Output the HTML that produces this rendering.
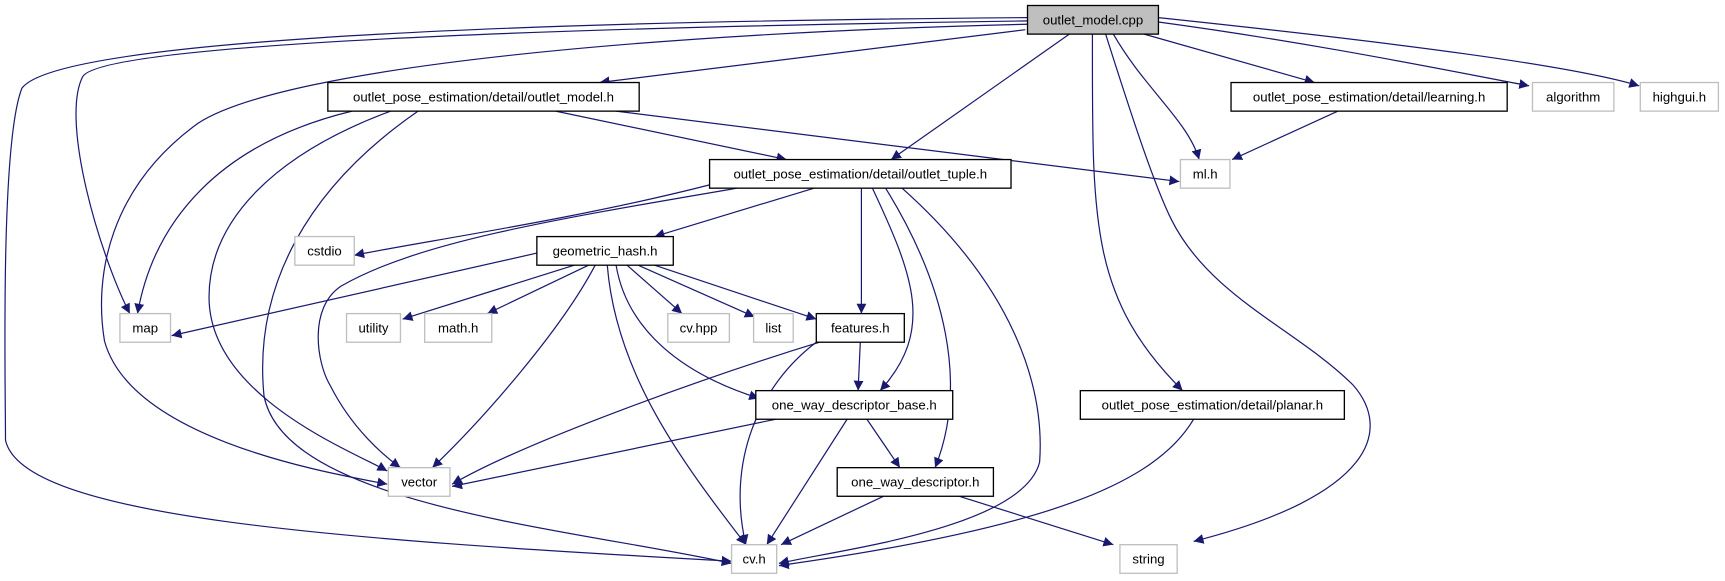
<!DOCTYPE html>
<html><head><meta charset="utf-8"><style>
html,body{margin:0;padding:0;background:#fff;width:1725px;height:581px;overflow:hidden}
svg text{font-family:"Liberation Sans",sans-serif;font-size:12px;text-anchor:middle;dominant-baseline:central;fill:#000}
.e{fill:none;stroke:#191970;stroke-width:1.1}
.n{fill:#fff;stroke:#000;stroke-width:1.2}
.g{fill:#fff;stroke:#bfbfbf;stroke-width:1.2}
</style></head><body>
<svg width="1725" height="581" viewBox="0 0 1568 528" preserveAspectRatio="none">
<defs><marker id="a" viewBox="0 0 10 10" refX="10" refY="5" markerWidth="9" markerHeight="9" markerUnits="userSpaceOnUse" orient="auto"><path d="M0,0 L10,5 L0,10 z" fill="#191970"/></marker></defs>
<g class="e" marker-end="url(#a)">
<path d="M932,27 L545,75"/>
<path d="M934,19 C500,25 90,40 75,70 C55,110 90,230 118,285"/>
<path d="M934,22 C600,30 260,60 180,112 C100,170 85,250 95,310 C120,400 300,430 352,440"/>
<path d="M934,16 C400,20 50,40 20,80 C0,130 5,350 5,400 C20,470 300,490 665,510"/>
<path d="M972,31 L810,145"/>
<path d="M1012,31 C1040,80 1080,110 1090,145"/>
<path d="M1005,31 C1030,110 1050,170 1065,200 C1100,270 1180,300 1230,350 C1265,390 1250,450 1085,492"/>
<path d="M993,31 C993,200 990,270 1075,355"/>
<path d="M1040,31 L1195,75"/>
<path d="M1053,20 C1200,40 1320,65 1390,78"/>
<path d="M1053,16 C1280,40 1430,60 1490,78"/>
<path d="M560,101 L1072,165"/>
<path d="M505,101 L715,145"/>
<path d="M320,101 C200,130 140,200 125,285"/>
<path d="M355,101 C250,140 190,200 190,270 C190,360 320,410 352,428"/>
<path d="M380,101 C280,170 230,260 240,360 C260,460 520,480 665,512"/>
<path d="M1216,101 L1120,145"/>
<path d="M645,168 C520,200 380,220 322,232"/>
<path d="M670,171 C500,200 380,220 310,260 C280,280 288,330 300,350 C320,390 350,415 364,425"/>
<path d="M740,171 L595,215"/>
<path d="M783,171 L783,285"/>
<path d="M793,171 C830,250 850,300 800,355"/>
<path d="M805,171 C860,260 880,350 850,425"/>
<path d="M820,171 C920,260 950,350 945,420 C930,480 760,500 708,512"/>
<path d="M488,230 L156,305"/>
<path d="M522,241 L366,290"/>
<path d="M535,241 L443,285"/>
<path d="M541,241 C510,300 440,380 393,425"/>
<path d="M552,241 C560,340 620,420 678,495"/>
<path d="M560,241 C570,300 620,340 690,362"/>
<path d="M570,241 L620,285"/>
<path d="M580,241 L686,288"/>
<path d="M595,241 L742,290"/>
<path d="M745,311 C650,340 480,400 411,440"/>
<path d="M782,311 L780,355"/>
<path d="M742,311 C690,350 660,420 678,495"/>
<path d="M705,381 L411,442"/>
<path d="M770,381 L697,495"/>
<path d="M788,381 L818,425"/>
<path d="M803,451 L710,495"/>
<path d="M872,451 L1012,495"/>
<path d="M1085,381 C1050,440 950,480 708,514"/>
</g>
<rect x="934" y="5" width="119" height="26" fill="#bfbfbf" stroke="#000" stroke-width="1.2"/><text x="993.5" y="18">outlet_model.cpp</text>
<rect class="n" x="298" y="75" width="283" height="26"/><text x="439.5" y="88">outlet_pose_estimation/detail/outlet_model.h</text>
<rect class="n" x="1119" y="75" width="251" height="26"/><text x="1244.5" y="88">outlet_pose_estimation/detail/learning.h</text>
<rect class="g" x="1393" y="75" width="74" height="26"/><text x="1430" y="88">algorithm</text>
<rect class="g" x="1491" y="75" width="71" height="26"/><text x="1526.5" y="88">highgui.h</text>
<rect class="g" x="1073" y="145" width="45" height="26"/><text x="1095.5" y="158">ml.h</text>
<rect class="n" x="645" y="145" width="274" height="26"/><text x="782" y="158">outlet_pose_estimation/detail/outlet_tuple.h</text>
<rect class="g" x="268" y="215" width="54" height="26"/><text x="295" y="228">cstdio</text>
<rect class="n" x="488" y="215" width="124" height="26"/><text x="550" y="228">geometric_hash.h</text>
<rect class="g" x="109" y="285" width="46" height="26"/><text x="132" y="298">map</text>
<rect class="g" x="315" y="285" width="49" height="26"/><text x="339.5" y="298">utility</text>
<rect class="g" x="386" y="285" width="61" height="26"/><text x="416.5" y="298">math.h</text>
<rect class="g" x="607" y="285" width="56" height="26"/><text x="635" y="298">cv.hpp</text>
<rect class="g" x="685" y="285" width="36" height="26"/><text x="703" y="298">list</text>
<rect class="n" x="742" y="285" width="80" height="26"/><text x="782" y="298">features.h</text>
<rect class="n" x="687" y="355" width="179" height="26"/><text x="776.5" y="368">one_way_descriptor_base.h</text>
<rect class="n" x="982" y="355" width="240" height="26"/><text x="1102" y="368">outlet_pose_estimation/detail/planar.h</text>
<rect class="g" x="353" y="425" width="56" height="26"/><text x="381" y="438">vector</text>
<rect class="n" x="761" y="425" width="142" height="26"/><text x="832" y="438">one_way_descriptor.h</text>
<rect class="g" x="665" y="495" width="41" height="26"/><text x="685.5" y="508">cv.h</text>
<rect class="g" x="1018" y="495" width="52" height="26"/><text x="1044" y="508">string</text>
</svg>
</body></html>
